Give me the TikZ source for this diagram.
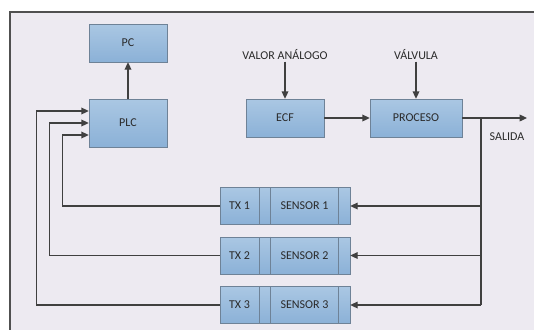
\documentclass[tikz,border=0pt]{standalone}
\usepackage{fontspec}
\setmainfont{Carlito}
\usetikzlibrary{arrows.meta}
\definecolor{framebg}{HTML}{EDEAF1}
\definecolor{frameline}{HTML}{505050}
\definecolor{boxtop}{HTML}{AAC7E3}
\definecolor{boxbot}{HTML}{8BB1D7}
\definecolor{boxline}{HTML}{6E8297}
\definecolor{wire}{HTML}{404040}
\definecolor{txt}{HTML}{2A2A2A}
\tikzset{
  block/.style={draw=boxline,top color=boxtop,bottom color=boxbot,text=txt,
    minimum width=#1,minimum height=28.5pt,inner sep=0pt},
  block/.default=58.5pt,
  rowbox/.style={block=#1,minimum height=27.75pt},
  flow/.style={draw=wire,line width=0.9pt,-{Triangle[length=5.5pt,width=5pt]}},
  wireline/.style={draw=wire,line width=0.9pt},
  lbl/.style={text=txt,inner sep=1pt}
}
\begin{document}
\begin{tikzpicture}[x=0.75pt,y=-0.75pt,font=\fontsize{9}{10}\selectfont]
  \useasboundingbox (0,0) rectangle (534,329);
  \fill[framebg] (10,12) rectangle (545,340);
  \draw[frameline,line width=0.8pt] (10,340) -- (10,12) -- (545,12);
  % control side
  \node[block] (pc) at (128,43) {PC};
  \node[block,minimum height=36pt] (plc) at (128,123) {PLC};
  \draw[flow] (plc) -- (pc);
  % process line
  \node[block] (ecf) at (285,118) {ECF};
  \node[block=69pt] (proceso) at (416,118) {PROCESO};
  \node[lbl] (valor) at (285,55) {VALOR ANÁLOGO};
  \node[lbl] (valvula) at (416,55) {VÁLVULA};
  \node[lbl] (salida) at (507,137) {SALIDA};
  \coordinate (branch) at (481,118);
  \coordinate (out) at (527,118);
  \draw[flow] (valor) -- (ecf);
  \draw[flow] (valvula) -- (proceso);
  \draw[flow] (ecf) -- (proceso);
  \draw[flow] (proceso) -- (out);
  % transmitters and sensors
  \foreach \i/\y in {1/206,2/255.5,3/305}{
    \node[rowbox=29.25pt] (tx\i) at (239.5,\y) {TX \i};
    \node[rowbox=68.25pt] (s\i) at (304.5,\y) {SENSOR \i};
    \draw[boxline] ([xshift=9pt]s\i.north west) -- ([xshift=9pt]s\i.south west)
      ([xshift=-9pt]s\i.north east) -- ([xshift=-9pt]s\i.south east);
    \draw[flow] (branch |- s\i.east) -- (s\i.east);
  }
  \draw[wireline] (branch) -- (branch |- s3.east);
  \draw[flow] (tx1.west) -- ++(-157,0) |- ([yshift=-9pt]plc.west);
  \draw[flow] (tx2.west) -- ++(-170,0) |- (plc.west);
  \draw[flow] (tx3.west) -- ++(-183,0) |- ([yshift=9pt]plc.west);
\end{tikzpicture}
\end{document}
